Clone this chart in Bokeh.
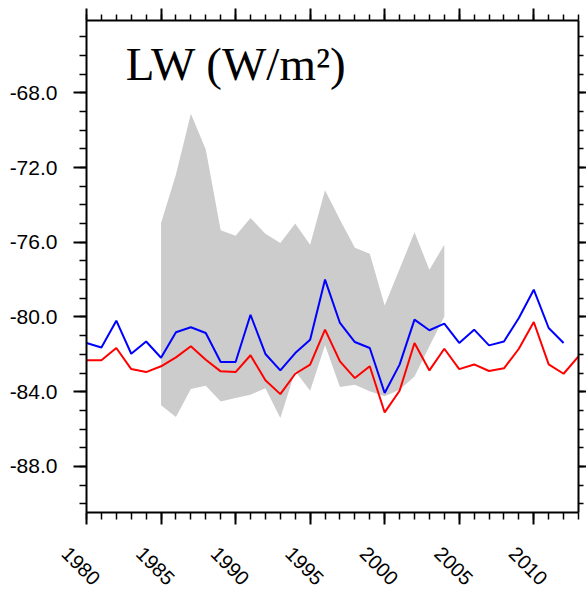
import math
from bokeh.plotting import figure
from bokeh.models import (LinearAxis, FixedTicker, PrintfTickFormatter, Range1d,
                          Label, CustomJSTickFormatter)
from bokeh.core.properties import value
from bokeh.embed import file_html
from bokeh.resources import INLINE

# ---- data ----
years_blue = list(range(1980, 2013))
blue = [-81.39, -81.63, -80.20, -81.97, -81.31, -82.18, -80.82, -80.55, -80.86, -82.41,
        -82.41, -79.88, -81.98, -82.86, -81.93, -81.22, -78.00, -80.32, -81.34, -81.66,
        -84.07, -82.55, -80.14, -80.71, -80.36, -81.39, -80.68, -81.52, -81.31, -80.05,
        -78.54, -80.59, -81.39]

years_red = list(range(1980, 2014))
red = [-82.32, -82.32, -81.66, -82.79, -82.95, -82.64, -82.16, -81.57, -82.29, -82.91,
       -82.95, -82.05, -83.39, -84.13, -83.04, -82.55, -80.68, -82.38, -83.27, -82.64,
       -85.11, -83.95, -81.39, -82.86, -81.70, -82.79, -82.54, -82.89, -82.75, -81.70,
       -80.27, -82.54, -83.04, -82.11]

years_band = list(range(1985, 2005))
band_upper = [-74.97, -72.38, -69.12, -71.04, -75.36, -75.65, -74.70, -75.55, -76.04, -75.00,
              -76.13, -73.22, -74.79, -76.30, -76.61, -79.39, -77.43, -75.47, -77.47, -76.13]
band_lower = [-84.72, -85.36, -83.86, -83.68, -84.52, -84.34, -84.16, -83.82, -85.41, -82.91,
              -83.95, -81.52, -83.75, -83.63, -83.98, -84.25, -83.89, -83.18, -81.57, -79.97]

x_ticks = [1980, 1985, 1990, 1995, 2000, 2005, 2010]
x_tick_labels = ["1980", "1985", "1990", "1995", "2000", "2005", "2010"]
y_ticks = [-88, -84, -80, -76, -72, -68]
title_text = "LW (W/m\u00b2)"

# axis extents (data) and where the plot box sits on the canvas (pixels)
X_MIN, X_MAX = 1980, 2013
Y_MIN, Y_MAX = -90.45, -64.13
W, H = 586, 591
BOX_L, BOX_R, BOX_T, BOX_B = 86, 578, 20, 511.7

sx = (BOX_R - BOX_L) / (X_MAX - X_MIN)
sy = (BOX_B - BOX_T) / (Y_MAX - Y_MIN)
x_range = Range1d(X_MIN - BOX_L / sx, X_MAX + (W - BOX_R) / sx)
y_range = Range1d(Y_MIN - (H - BOX_B) / sy, Y_MAX + BOX_T / sy)

p = figure(width=W, height=H, output_backend="svg", toolbar_location=None,
           x_range=x_range, y_range=y_range,
           min_border=0, min_border_left=0, min_border_right=0,
           min_border_top=0, min_border_bottom=0,
           x_axis_location=None, y_axis_location=None)
p.grid.visible = False
p.outline_line_color = None
p.background_fill_color = "white"
p.border_fill_color = "white"

p.varea(x=years_band, y1=band_lower, y2=band_upper, fill_color="#cccccc", fill_alpha=1.0)
p.line(years_blue, blue, line_color="#0000ff", line_width=2)
p.line(years_red, red, line_color="#ff0000", line_width=2)

xt = FixedTicker(ticks=x_ticks, minor_ticks=list(range(1980, 2014)))
yt = FixedTicker(ticks=y_ticks, minor_ticks=list(range(-90, -64)))

def style(ax, major, minor):
    ax.axis_line_width = 2
    ax.axis_line_color = "black"
    ax.major_tick_line_width = 2
    ax.minor_tick_line_width = 1.5
    ax.major_tick_in = 0
    ax.minor_tick_in = 0
    ax.major_tick_out = major
    ax.minor_tick_out = minor

left = LinearAxis(ticker=yt, formatter=PrintfTickFormatter(format="%.1f"),
                  fixed_location=X_MIN, bounds=(Y_MIN, Y_MAX))
style(left, 13, 7)
left.major_label_text_font = "Liberation Sans"
left.major_label_text_font_size = "21px"
left.major_label_text_color = "black"
left.major_label_standoff = 16
p.add_layout(left, "left")

right = LinearAxis(ticker=yt, formatter=CustomJSTickFormatter(code="return ''"),
                   fixed_location=X_MAX, bounds=(Y_MIN, Y_MAX))
style(right, 8, 5)
right.major_label_text_font_size = "0px"
right.major_label_standoff = 0
p.add_layout(right, "right")

bottom = LinearAxis(ticker=xt, formatter=CustomJSTickFormatter(code="return ''"),
                    fixed_location=Y_MIN, bounds=(X_MIN, X_MAX))
style(bottom, 12, 7)
bottom.major_label_text_font_size = "0px"
bottom.major_label_standoff = 0
p.add_layout(bottom, "below")

top = LinearAxis(ticker=xt, formatter=CustomJSTickFormatter(code="return ''"),
                 fixed_location=Y_MAX, bounds=(X_MIN, X_MAX))
style(top, 12, 6)
top.major_label_text_font_size = "0px"
top.major_label_standoff = 0
p.add_layout(top, "above")

# rotated year labels under the bottom axis
p.text(x=x_ticks, y=[Y_MIN] * len(x_ticks), text=x_tick_labels, angle=-math.pi / 4,
       x_offset=-5.5, y_offset=53.6, text_align="center", text_baseline="middle",
       text_font=value("Liberation Sans"), text_font_size="20px", text_color="black")

p.add_layout(Label(x=1982.64, y=-66.45, text=title_text, text_font="Liberation Serif",
                   text_font_size="47px", text_color="black", text_baseline="alphabetic",
                   text_align="left"))

open("out.html", "w").write(file_html(p, INLINE))
